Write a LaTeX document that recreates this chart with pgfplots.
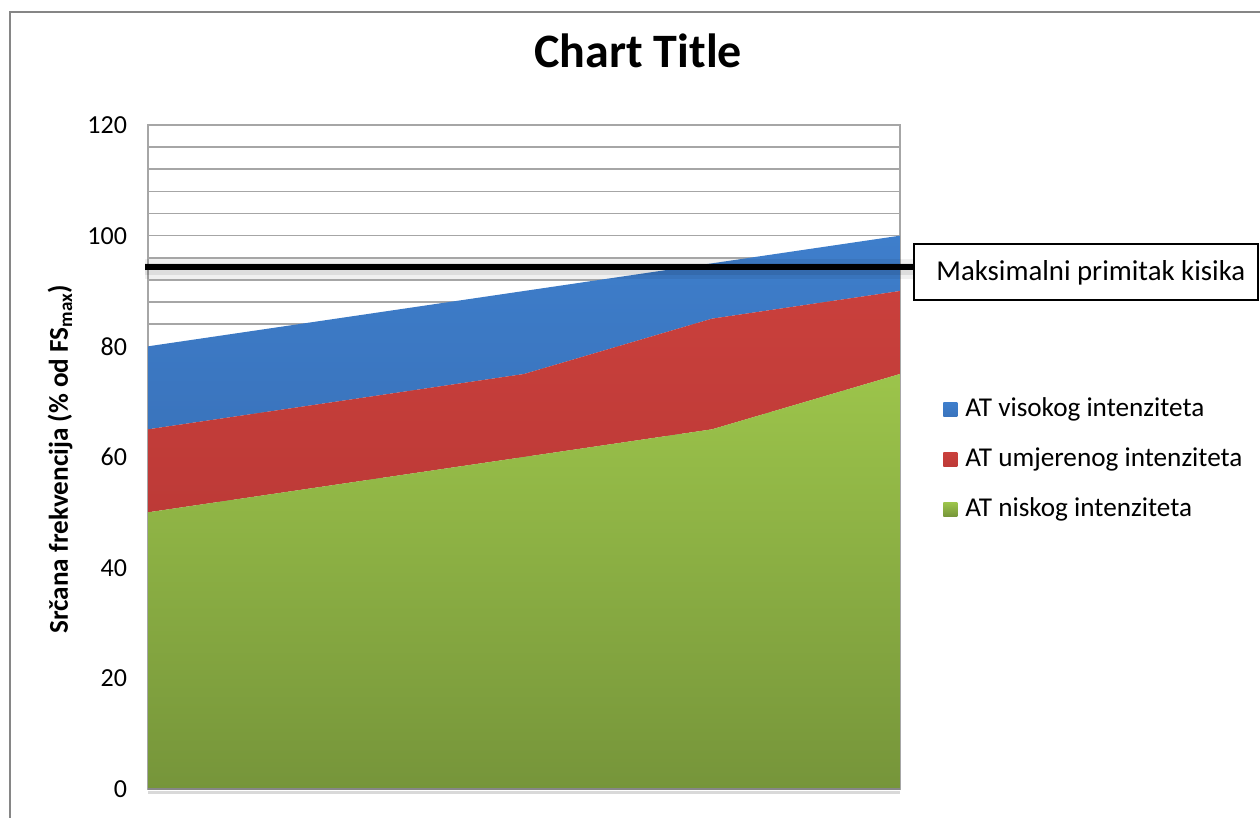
\documentclass[border=0pt]{standalone}
\usepackage{pgfplots}
\pgfplotsset{compat=1.18}
\usepackage{fontspec}
\setmainfont{Carlito}
\definecolor{gTop}{RGB}{156,196,75}
\definecolor{gBot}{RGB}{118,149,58}
\definecolor{rTop}{RGB}{201,64,60}
\definecolor{rBot}{RGB}{189,58,55}
\definecolor{bTop}{RGB}{62,126,203}
\definecolor{bBot}{RGB}{58,116,189}
\definecolor{gridc}{RGB}{166,166,166}
\definecolor{framec}{RGB}{134,134,134}
\begin{document}
\begin{tikzpicture}
\useasboundingbox (0,0) rectangle (630pt,-409pt);
\begin{scope}
\clip (0,0) rectangle (630pt,-409pt);
\draw[color=framec, line width=1pt] (5pt,-6pt) rectangle (660pt,-440pt);
\end{scope}
\begin{axis}[
  at={(74pt,-394.5pt)}, anchor=south west,
  scale only axis, width=376pt, height=332pt,
  xmin=0, xmax=4, ymin=0, ymax=120,
  stack plots=y,
  clip=false,
  xtick=\empty,
  ytick={0,20,40,60,80,100,120},
  minor y tick num=4,
  major tick length=0pt, minor tick length=0pt,
  ymajorgrids, yminorgrids,
  major grid style={color=gridc, line width=0.8pt},
  minor grid style={color=gridc, line width=0.8pt},
  axis line style={color=gridc, line width=0.8pt},
  /pgf/number format/assume math mode=true,
  tick label style={font=\fontsize{13}{15}\selectfont},
  yticklabel style={xshift=-7pt},
  title={\textbf{Chart Title}},
  title style={font=\fontsize{24}{28}\selectfont, at={(axis description cs:0.652,1.093)}, anchor=center},
  ylabel={\textbf{Srčana frekvencija (\% od FS\textsubscript{max})}},
  ylabel style={font=\fontsize{13.6}{16}\selectfont, at={(axis description cs:-0.117,0.497)}, anchor=center},
  reverse legend,
  legend cell align=left,
  legend style={at={(axis description cs:1.057,0.496)}, anchor=west, draw=none, fill=none,
    font=\fontsize{13.6}{16}\selectfont, row sep=12.5pt, inner sep=0pt,
    nodes={inner sep=0pt, text height=9.5pt, text depth=3pt}},
  legend image code/.code={\path[#1, draw=none] (0pt,-3.5pt) rectangle (7pt,3.5pt);},
]
\addplot[draw=none, top color=gTop, bottom color=gBot] coordinates {(0,50) (1,55) (2,60) (3,65) (4,75)} \closedcycle;
\addlegendentry{\hspace{4pt}AT niskog intenziteta}
\addplot[draw=none, top color=rTop, bottom color=rBot] coordinates {(0,15) (1,15) (2,15) (3,20) (4,15)} \closedcycle;
\addlegendentry{\hspace{4pt}AT umjerenog intenziteta}
\addplot[draw=none, top color=bTop, bottom color=bBot] coordinates {(0,15) (1,15) (2,15) (3,10) (4,10)} \closedcycle;
\addlegendentry{\hspace{4pt}AT visokog intenziteta}
\end{axis}
% bottom axis line with faint shadow
\draw[color=black, opacity=0.15, line width=1.5pt] (74pt,-396pt) -- (450pt,-396pt);
\draw[color=framec, line width=1.2pt] (74pt,-394.5pt) -- (450pt,-394.5pt);
% maximal oxygen uptake line with soft shadow
\draw[color=black, opacity=0.06, line width=10pt] (72.5pt,-134.5pt) -- (457pt,-134.5pt);
\draw[color=black, opacity=0.08, line width=6pt] (72.5pt,-134.5pt) -- (457pt,-134.5pt);
\draw[color=black, line width=2.6pt] (72.5pt,-133.5pt) -- (457pt,-133.5pt);
\draw[color=black, line width=0.8pt, fill=white] (457pt,-122pt) rectangle (629pt,-150pt);
\node[anchor=base west, inner sep=0pt, font=\fontsize{14.4}{17}\selectfont] at (468pt,-140.5pt) {Maksimalni primitak kisika};
\end{tikzpicture}
\end{document}
